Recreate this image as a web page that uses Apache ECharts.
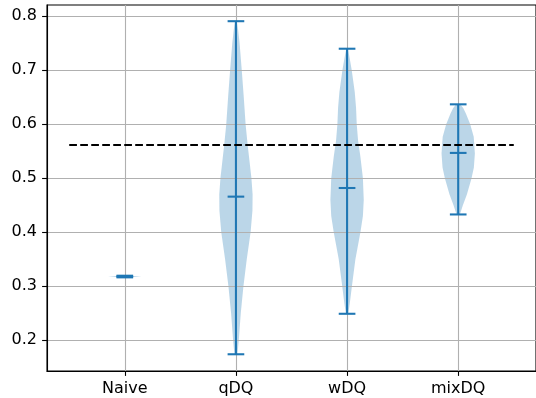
<!DOCTYPE html>
<html>
<head>
<meta charset="utf-8">
<script src="https://cdn.jsdelivr.net/npm/echarts@6/dist/echarts.min.js"></script>
<style>
  html, body { margin: 0; padding: 0; background: #fff; }
  #main { width: 536px; height: 398px; }
</style>
</head>
<body>
<div id="main"></div>
<script>
// categories and summary values
var categories = ['Naive', 'qDQ', 'wDQ', 'mixDQ'];
var minValues = [0.3165, 0.174, 0.249, 0.433];
var maxValues = [0.3195, 0.791, 0.740, 0.637];
var meanValues = [0.318, 0.466, 0.482, 0.547];
var yTicks = [0.2, 0.3, 0.4, 0.5, 0.6, 0.7, 0.8];

// violin outlines: [value, relative density]
var naiveProfile = [[0.3165, 0.3], [0.318, 1.0], [0.3195, 0.3]];
var qdqProfile = [[0.174, 0.09], [0.20, 0.17], [0.25, 0.29], [0.30, 0.45], [0.35, 0.65], [0.40, 0.88],
  [0.44, 0.99], [0.47, 1.0], [0.50, 0.93], [0.53, 0.82], [0.56, 0.71], [0.60, 0.58], [0.65, 0.47],
  [0.70, 0.35], [0.75, 0.22], [0.775, 0.13], [0.791, 0.05]];
var wdqProfile = [[0.249, 0.07], [0.27, 0.17], [0.30, 0.29], [0.35, 0.50], [0.40, 0.80], [0.43, 0.95],
  [0.46, 1.0], [0.50, 0.95], [0.54, 0.80], [0.57, 0.66], [0.60, 0.58], [0.63, 0.54], [0.66, 0.46],
  [0.70, 0.28], [0.72, 0.17], [0.74, 0.05]];
var mixdqProfile = [[0.433, 0.10], [0.45, 0.28], [0.47, 0.52], [0.50, 0.80], [0.52, 0.94], [0.546, 1.0],
  [0.577, 0.93], [0.60, 0.72], [0.62, 0.46], [0.63, 0.30], [0.637, 0.12]];
var profiles = [naiveProfile, qdqProfile, wdqProfile, mixdqProfile];

// dashed reference line
var baselineValue = 0.5617;
var baselineSpan = [0.5, 4.5];

var halfWidth = 0.15;
var capHalf = 0.075;
var blue = '#1f77b4';

var chart = echarts.init(document.getElementById('main'), null, { renderer: 'canvas' });

function bodyItem(params, api) {
  var pos = api.value(0);
  var prof = profiles[params.dataIndex];
  var pts = [];
  for (var i = 0; i < prof.length; i++) {
    pts.push(api.coord([pos + prof[i][1] * halfWidth, prof[i][0]]));
  }
  for (var j = prof.length - 1; j >= 0; j--) {
    pts.push(api.coord([pos - prof[j][1] * halfWidth, prof[j][0]]));
  }
  return {
    type: 'polygon',
    shape: { points: pts },
    style: { fill: blue, opacity: 0.3 }
  };
}

function statsItem(params, api) {
  var pos = api.value(0);
  var lo = api.value(1), hi = api.value(2), mean = api.value(3);
  var st = { stroke: blue, lineWidth: 2.08 };
  function seg(x1, y1, x2, y2) {
    var a = api.coord([x1, y1]), b = api.coord([x2, y2]);
    return { type: 'line', shape: { x1: a[0], y1: a[1], x2: b[0], y2: b[1] }, style: st };
  }
  return {
    type: 'group',
    children: [
      seg(pos, lo, pos, hi),
      seg(pos - capHalf, lo, pos + capHalf, lo),
      seg(pos - capHalf, hi, pos + capHalf, hi),
      seg(pos - capHalf, mean, pos + capHalf, mean)
    ]
  };
}

var statsData = categories.map(function (c, i) {
  return [i + 1, minValues[i], maxValues[i], meanValues[i]];
});

var option = {
  animation: false,
  grid: {
    left: 47, top: 5, height: 366, width: 492,
    show: true, borderColor: '#000', borderWidth: 1.1, backgroundColor: 'transparent'
  },
  xAxis: {
    type: 'value', min: 0.3, max: 4.7,
    minInterval: 1, maxInterval: 1,
    axisLine: { show: true, lineStyle: { color: '#000', width: 1.1 } },
    axisTick: { show: true, length: 4.9, lineStyle: { color: '#000', width: 1.1 }, customValues: [1, 2, 3, 4] },
    axisLabel: {
      customValues: [1, 2, 3, 4],
      margin: 10, color: '#000', fontSize: 16, fontFamily: 'DejaVu Sans',
      formatter: function (v) { return categories[Math.round(v) - 1] || ''; }
    },
    splitLine: { show: true, lineStyle: { color: '#b0b0b0', width: 1.1 } }
  },
  yAxis: {
    type: 'value', min: 0.143, max: 0.821,
    minInterval: 0.1, maxInterval: 0.1,
    axisLine: { show: true, lineStyle: { color: '#000', width: 1.1 } },
    axisTick: { show: true, length: 4.9, lineStyle: { color: '#000', width: 1.1 }, customValues: yTicks },
    axisLabel: {
      customValues: yTicks,
      margin: 10, color: '#000', fontSize: 16, fontFamily: 'DejaVu Sans',
      formatter: function (v) { return v.toFixed(1); }
    },
    splitLine: { show: true, lineStyle: { color: '#b0b0b0', width: 1.1 } }
  },
  series: [
    {
      type: 'custom', name: 'bodies', z: -1,
      renderItem: bodyItem,
      data: categories.map(function (c, i) { return [i + 1]; }),
      silent: true
    },
    {
      type: 'custom', name: 'stats', z: 3,
      renderItem: statsItem,
      data: statsData,
      silent: true
    },
    {
      type: 'line', name: 'baseline', z: 4,
      data: [[baselineSpan[0], baselineValue], [baselineSpan[1], baselineValue]],
      symbol: 'none',
      lineStyle: { color: '#000', width: 2.08, type: [7.7, 3.3] },
      silent: true
    }
  ]
};

chart.setOption(option);
</script>
</body>
</html>
